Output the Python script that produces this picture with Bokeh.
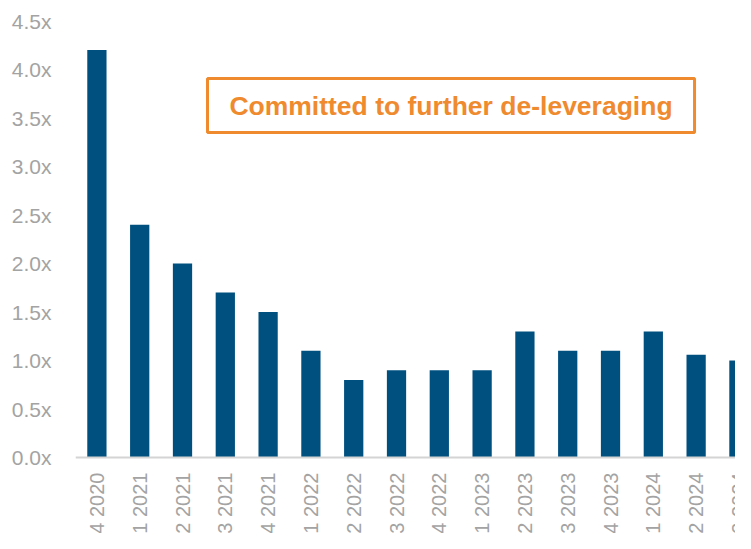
import math
from bokeh.plotting import figure
from bokeh.models import (Range1d, FixedTicker, PrintfTickFormatter, Span,
                          BoxAnnotation, Label, ColumnDataSource)
from bokeh.core.properties import value
from bokeh.embed import file_html
from bokeh.resources import INLINE

quarters = ["Q4 2020", "Q1 2021", "Q2 2021", "Q3 2021", "Q4 2021", "Q1 2022",
            "Q2 2022", "Q3 2022", "Q4 2022", "Q1 2023", "Q2 2023", "Q3 2023",
            "Q4 2023", "Q1 2024", "Q2 2024", "Q3 2024"]
leverage = [4.2, 2.4, 2.0, 1.7, 1.5, 1.1, 0.8, 0.9, 0.9, 0.9, 1.3, 1.1,
            1.1, 1.3, 1.06, 1.0]
y_ticks = [0.0, 0.5, 1.0, 1.5, 2.0, 2.5, 3.0, 3.5, 4.0, 4.5]
callout = "Committed to further de-leveraging"

FONT = "Liberation Sans"
GRAY = "#a3a3a3"
BLUE = "#00507f"
ORANGE = "#ef8a2e"

idx = list(range(len(quarters)))
src = ColumnDataSource(dict(x=idx, top=leverage, label=quarters,
                            ly=[-0.155] * len(quarters)))

p = figure(width=735, height=533, output_backend="svg", toolbar_location=None,
           x_range=Range1d(-0.5, 14.92), y_range=Range1d(-0.7835, 4.66),
           min_border_left=75, min_border_right=0, min_border_top=5,
           min_border_bottom=0, x_axis_location=None)
p.outline_line_color = None
p.grid.visible = False
p.background_fill_color = "white"
p.border_fill_color = "white"

p.vbar(x="x", top="top", width=0.45, bottom=0, source=src,
       fill_color=BLUE, line_color=None)

p.add_layout(Span(location=0, dimension="width", line_color="#d4d4d4",
                  line_width=2))

p.text(x="x", y="ly", text="label", source=src, angle=math.pi / 2,
       text_align="right", text_baseline="middle",
       text_font=value(FONT), text_font_size="20px", text_color=GRAY)

ya = p.yaxis[0]
ya.ticker = FixedTicker(ticks=y_ticks)
ya.formatter = PrintfTickFormatter(format="%.1fx")
ya.axis_line_color = None
ya.major_tick_line_color = None
ya.minor_tick_line_color = None
ya.major_label_standoff = 18
ya.major_label_text_font = FONT
ya.major_label_text_font_size = "21px"
ya.major_label_text_color = GRAY

p.add_layout(BoxAnnotation(left=2.584, right=13.963, top=3.907, bottom=3.351,
                           fill_color=None, fill_alpha=0,
                           line_color=ORANGE, line_alpha=1, line_width=3))
p.add_layout(Label(x=8.273, y=3.629, text=callout, text_align="center",
                   text_baseline="middle", text_font=FONT,
                   text_font_size="26.5px", text_font_style="bold",
                   text_color=ORANGE))

open("out.html", "w").write(file_html(p, INLINE))
